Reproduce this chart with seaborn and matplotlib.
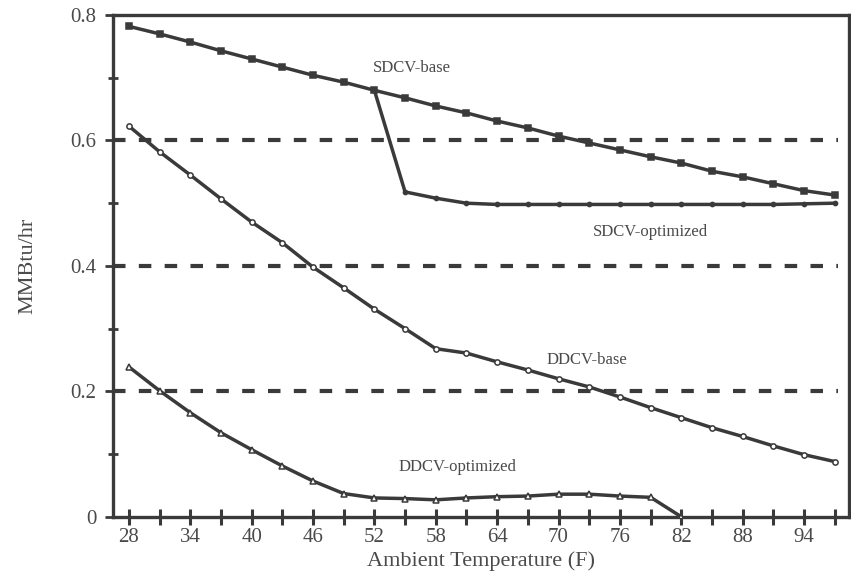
import pandas as pd
import matplotlib.pyplot as plt
import seaborn as sns

# Data (MMBtu/hr vs ambient temperature, every 3 F)
temp = list(range(28, 98, 3))
sdcv_base = [0.782, 0.770, 0.757, 0.743, 0.730, 0.717, 0.704, 0.693, 0.680,
             0.668, 0.655, 0.644, 0.631, 0.620, 0.607, 0.596, 0.585, 0.574,
             0.564, 0.551, 0.542, 0.531, 0.520, 0.513]
sdcv_opt_temp = list(range(52, 98, 3))
sdcv_opt = [0.680, 0.518, 0.508, 0.500, 0.498, 0.498, 0.498, 0.498, 0.498,
            0.498, 0.498, 0.498, 0.498, 0.498, 0.499, 0.500]
ddcv_base = [0.623, 0.582, 0.545, 0.507, 0.470, 0.437, 0.398, 0.365, 0.331,
             0.300, 0.268, 0.261, 0.247, 0.234, 0.220, 0.207, 0.191, 0.174,
             0.158, 0.142, 0.128, 0.113, 0.099, 0.088]
ddcv_opt_temp = list(range(28, 83, 3))
ddcv_opt = [0.239, 0.201, 0.166, 0.134, 0.107, 0.081, 0.057, 0.037, 0.030,
            0.029, 0.027, 0.030, 0.032, 0.033, 0.036, 0.036, 0.033, 0.031, 0.0]

xticks = list(range(28, 95, 6))
xminor = list(range(31, 98, 6))
yticks = [0, 0.2, 0.4, 0.6, 0.8]
ytick_labels = ['0', '0.2', '0.4', '0.6', '0.8']
yminor = [0.1, 0.3, 0.5, 0.7]
grid_levels = [0.2, 0.4, 0.6]

sns.set_style("ticks")
plt.rcParams['font.family'] = ['Liberation Serif', 'DejaVu Serif']

ink = '#3a3a3a'
text_col = '#4a4a4a'

fig = plt.figure(figsize=(8.51, 5.79), dpi=100)
ax = fig.add_axes([0.1328, 0.1075, 0.8649, 0.8665])

# dashed reference lines
for lvl in grid_levels:
    ax.axhline(lvl, xmin=0.0, xmax=0.985, color=ink, lw=3, ls=(0, (3, 3.2)), zorder=1)

line_kw = dict(color=ink, lw=2.5, markersize=3.8, markeredgewidth=1.1, zorder=3)
sns.lineplot(x=temp, y=sdcv_base, ax=ax, marker='s', markerfacecolor=ink,
             markeredgecolor=ink, **line_kw)
sns.lineplot(x=sdcv_opt_temp, y=sdcv_opt, ax=ax, marker='o', markerfacecolor=ink,
             markeredgecolor=ink, **dict(line_kw, markersize=3))
sns.lineplot(x=temp, y=ddcv_base, ax=ax, marker='o', markerfacecolor='white',
             markeredgecolor=ink, **line_kw)
sns.lineplot(x=ddcv_opt_temp, y=ddcv_opt, ax=ax, marker='^', markerfacecolor='white',
             markeredgecolor=ink, **line_kw)

# series labels
ax.text(55.7, 0.7155, 'SDCV-base', fontsize=12, color=text_col, ha='center', va='center')
ax.text(79.0, 0.454, 'SDCV-optimized', fontsize=12, color=text_col, ha='center', va='center')
ax.text(72.8, 0.250, 'DDCV-base', fontsize=12, color=text_col, ha='center', va='center')
ax.text(60.1, 0.080, 'DDCV-optimized', fontsize=12, color=text_col, ha='center', va='center')

ax.set_xlim(26.45, 98.4)
ax.set_ylim(0, 0.8)
ax.set_xticks(xticks)
ax.set_xticks(xminor, minor=True)
ax.set_yticks(yticks)
ax.set_yticklabels(ytick_labels)
ax.set_yticks(yminor, minor=True)

ax.tick_params(axis='x', which='both', direction='inout', length=12, width=2.2,
               color=ink, labelsize=15, labelcolor=text_col, pad=2)
ax.tick_params(axis='y', which='major', direction='inout', length=12, width=2,
               color=ink, labelsize=15, labelcolor=text_col, pad=6)
ax.tick_params(axis='y', which='minor', direction='inout', length=7, width=2, color=ink)

for side in ['left', 'right', 'top', 'bottom']:
    ax.spines[side].set_linewidth(2.4)
    ax.spines[side].set_color(ink)

ax.set_xlabel('Ambient Temperature (F)', fontsize=16, color=text_col, labelpad=3)
ax.set_ylabel('MMBtu/hr', fontsize=16, color=text_col, labelpad=24)

fig.savefig('out.png', dpi=100)
